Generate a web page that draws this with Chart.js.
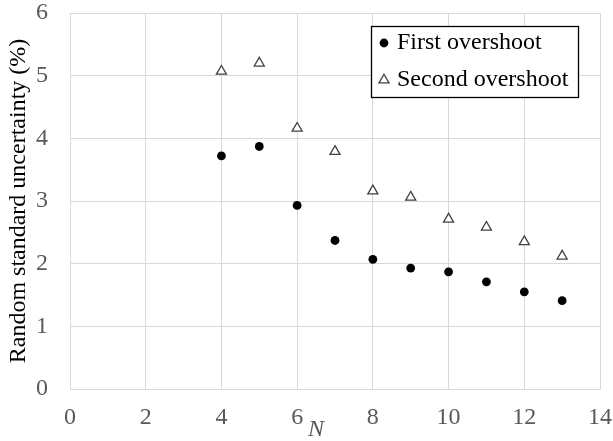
<!DOCTYPE html>
<html>
<head>
<meta charset="utf-8">
<script src="https://cdn.jsdelivr.net/npm/chart.js@4/dist/chart.umd.min.js"></script>
<style>
  html, body { margin: 0; padding: 0; background: #fff; }
  #wrap { width: 613px; height: 441px; }
</style>
</head>
<body>
<div id="wrap"><canvas id="chart" width="613" height="441"></canvas></div>
<script>
const nValues = [4, 5, 6, 7, 8, 9, 10, 11, 12, 13];
const firstOvershoot = [3.72, 3.87, 2.93, 2.37, 2.07, 1.93, 1.87, 1.71, 1.55, 1.41];
const secondOvershoot = [5.07, 5.20, 4.16, 3.79, 3.16, 3.06, 2.71, 2.58, 2.35, 2.12];
const seriesLabels = ["First overshoot", "Second overshoot"];

const serif = "'Liberation Serif', 'Times New Roman', serif";
const gridColor = "#d9d9d9";
const tickColor = "#595959";

const toPoints = (ys) => nValues.map((n, i) => ({ x: n, y: ys[i] }));

// legend box drawn inside the plot, top right
const boxLegend = {
  id: "boxLegend",
  afterDraw(chart) {
    const { ctx, chartArea } = chart;
    const right = chartArea.right - 22;
    const top = chartArea.top + 13;
    const w = 207, h = 71;
    const left = right - w;
    ctx.save();
    ctx.fillStyle = "#fff";
    ctx.fillRect(left, top, w, h);
    ctx.strokeStyle = "#000";
    ctx.lineWidth = 1.3;
    ctx.strokeRect(left + 0.5, top + 0.5, w, h);
    ctx.font = "24px " + serif;
    ctx.textBaseline = "middle";
    ctx.fillStyle = "#000";
    chart.data.datasets.forEach((ds, i) => {
      const cy = top + 17 + i * 37;
      const sx = left + 13;
      ctx.beginPath();
      if (ds.pointStyle === "triangle") {
        const r = ds.pointRadius;
        ctx.moveTo(sx, cy - r);
        ctx.lineTo(sx + r * 0.866, cy + r * 0.5);
        ctx.lineTo(sx - r * 0.866, cy + r * 0.5);
        ctx.closePath();
        ctx.fillStyle = ds.backgroundColor;
        ctx.fill();
        ctx.strokeStyle = ds.borderColor;
        ctx.lineWidth = ds.borderWidth;
        ctx.stroke();
      } else {
        ctx.arc(sx, cy, ds.pointRadius, 0, Math.PI * 2);
        ctx.fillStyle = ds.backgroundColor;
        ctx.fill();
      }
      ctx.fillStyle = "#000";
      ctx.fillText(ds.label, left + 26, cy);
    });
    ctx.restore();
  }
};

// italic "N" under the x axis, as in the original
const xTitle = {
  id: "xTitle",
  afterDraw(chart) {
    const { ctx } = chart;
    const xs = chart.scales.x;
    ctx.save();
    ctx.font = "italic 24px " + serif;
    ctx.fillStyle = tickColor;
    ctx.textAlign = "center";
    ctx.textBaseline = "middle";
    ctx.fillText("N", xs.getPixelForValue(6.5), chart.height - 11);
    ctx.restore();
  }
};

new Chart(document.getElementById("chart"), {
  type: "scatter",
  data: {
    datasets: [
      {
        label: seriesLabels[0],
        data: toPoints(firstOvershoot),
        pointStyle: "circle",
        pointRadius: 4.4,
        backgroundColor: "#000",
        borderColor: "#000",
        borderWidth: 0
      },
      {
        label: seriesLabels[1],
        data: toPoints(secondOvershoot),
        pointStyle: "triangle",
        pointRadius: 5.8,
        backgroundColor: "#fff",
        borderColor: "#404040",
        borderWidth: 1.3
      }
    ]
  },
  options: {
    responsive: false,
    animation: false,
    devicePixelRatio: 1,
    layout: { padding: 0 },
    plugins: {
      legend: { display: false },
      tooltip: { enabled: false }
    },
    scales: {
      x: {
        type: "linear",
        min: 0,
        max: 14,
        ticks: { stepSize: 2, color: tickColor, font: { family: serif, size: 24 }, padding: 14, maxRotation: 0 },
        grid: { color: gridColor, drawTicks: false },
        border: { color: gridColor },
        afterFit(scale) {
          scale.height = 52;
          scale.paddingLeft = 0;
          scale.paddingRight = 13;
        }
      },
      y: {
        min: 0,
        max: 6,
        ticks: { stepSize: 1, color: tickColor, font: { family: serif, size: 24 }, padding: 22 },
        grid: { color: gridColor, drawTicks: false },
        border: { color: gridColor },
        title: {
          display: true,
          text: "Random standard uncertainty (%)",
          color: "#000",
          font: { family: serif, size: 24 },
          padding: { top: 4, bottom: 0 }
        },
        afterFit(scale) {
          scale.width = 70;
          scale.paddingTop = 13;
          scale.paddingBottom = 0;
        }
      }
    }
  },
  plugins: [boxLegend, xTitle]
});
</script>
</body>
</html>
